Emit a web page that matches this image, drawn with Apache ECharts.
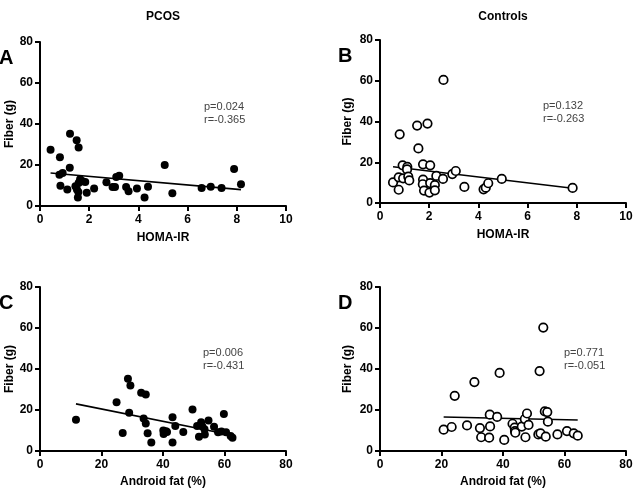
<!DOCTYPE html>
<html>
<head>
<meta charset="utf-8">
<script src="https://cdn.jsdelivr.net/npm/echarts@6/dist/echarts.min.js"></script>
<style>html,body{margin:0;padding:0;background:#fff}#c{width:636px;height:492px}</style>
</head>
<body>
<div id="c"></div>
<script>
// ---- Data ----
const pcosHoma = [[0.43,27.5],[0.81,23.8],[1.22,35.2],[1.49,32.1],[1.57,28.5],[0.79,15.3],[0.92,16.1],[1.21,18.6],[0.83,9.9],[1.11,8.1],[1.44,9.6],[1.50,8.0],[1.57,11.2],[1.63,13.0],[1.54,4.1],[1.56,6.8],[1.73,12.1],[1.84,11.7],[1.90,6.5],[2.2,8.5],[2.7,11.6],[2.95,9.3],[3.05,9.3],[3.1,14.2],[3.22,14.7],[3.5,9.3],[3.6,7.2],[3.94,8.5],[4.25,4.1],[4.39,9.4],[5.07,20.0],[5.38,6.2],[6.57,8.8],[6.94,9.4],[7.38,8.8],[7.89,18.1],[8.17,10.6]];
const pcosHomaFit = [[0.43,16.1],[8.17,8.0]];

const ctrlHoma = [[0.53,10.1],[0.76,12.6],[0.76,6.5],[0.80,33.7],[0.92,18.5],[0.94,12.1],[1.11,17.7],[1.10,16.5],[1.15,12.9],[1.19,11.1],[1.51,38.0],[1.56,26.8],[1.75,19.0],[1.75,11.5],[1.74,9.2],[1.79,6.1],[1.93,39.0],[2.04,18.5],[2.04,9.8],[2.01,5.1],[2.23,8.8],[2.23,6.2],[2.29,13.3],[2.58,60.4],[2.56,11.8],[2.94,14.2],[3.08,15.7],[3.43,7.9],[4.21,6.7],[4.30,7.5],[4.40,9.7],[4.95,11.8],[7.83,7.4]];
const ctrlHomaFit = [[0.53,17.8],[7.83,7.2]];

const pcosFat = [[11.7,15.2],[24.9,23.8],[26.9,8.8],[28.6,35.3],[29.4,32.0],[29.0,18.6],[32.9,28.4],[34.4,27.6],[33.7,15.8],[34.4,13.4],[35.0,8.7],[36.2,4.2],[40.1,10.0],[40.2,8.3],[41.0,9.6],[41.3,9.3],[43.1,16.5],[43.1,4.2],[44.0,12.2],[46.6,9.3],[49.6,20.2],[51.1,12.2],[51.7,6.9],[52.4,14.0],[52.8,11.9],[53.6,8.0],[53.5,10.6],[54.8,14.9],[56.6,11.8],[57.9,9.1],[59.0,9.5],[59.8,18.1],[60.5,9.1],[62.0,7.3],[62.6,6.5]];
const pcosFatFit = [[11.7,23.0],[62.6,7.7]];

const ctrlFat = [[20.7,10.4],[23.3,11.7],[24.3,26.9],[28.3,12.5],[30.7,33.6],[32.5,11.2],[32.9,6.7],[35.5,6.5],[35.8,12.0],[35.7,17.7],[38.1,16.6],[38.9,38.1],[40.4,5.4],[43.1,13.3],[43.8,11.4],[43.9,9.7],[44.0,8.9],[46.1,11.9],[47.1,15.6],[47.8,18.3],[47.3,6.7],[48.3,12.7],[51.5,8.1],[51.9,39.0],[52.2,8.6],[53.1,60.2],[53.6,19.3],[53.9,7.0],[54.4,19.0],[54.6,14.3],[57.7,8.1],[60.8,9.7],[63.0,8.6],[64.3,7.5]];
const ctrlFatFit = [[20.7,16.6],[64.3,15.1]];

const groupTitles = ['PCOS','Controls'];
const panelLetters = ['A','B','C','D'];
const statTexts = [['p=0.024','r=-0.365'],['p=0.132','r=-0.263'],['p=0.006','r=-0.431'],['p=0.771','r=-0.051']];
const xNames = ['HOMA-IR','HOMA-IR','Android fat (%)','Android fat (%)'];
const yName = 'Fiber (g)';
const xRanges = [[0,10,2],[0,10,2],[0,80,20],[0,80,20]];
const yRange = [0,80,20];

// ---- Chart ----
const chart = echarts.init(document.getElementById('c'), null, {renderer:'canvas'});
const FONT = 'Arial, "Liberation Sans", Helvetica, sans-serif';
const grids = [
  {left:40, top:42, width:246, height:164},
  {left:380, top:40, width:246, height:163},
  {left:40, top:287, width:246, height:164},
  {left:380, top:287, width:246, height:164}
];
const axisCommon = {
  axisLine:{show:true, onZero:false, lineStyle:{color:'#000', width:2}},
  axisTick:{show:true, inside:false, length:5, lineStyle:{color:'#000', width:2}},
  splitLine:{show:false},
  axisLabel:{color:'#000', fontWeight:'bold', fontSize:12, fontFamily:FONT},
  nameTextStyle:{color:'#000', fontWeight:'bold', fontSize:12, fontFamily:FONT}
};
const xAxes = xNames.map((n,i)=>Object.assign({}, axisCommon, {
  type:'value', gridIndex:i, min:xRanges[i][0], max:xRanges[i][1], interval:xRanges[i][2],
  name:n, nameLocation:'middle', nameGap:i<2 ? 26 : 25,
  axisLabel:Object.assign({}, axisCommon.axisLabel, {margin:8})
}));
const yAxes = xNames.map((n,i)=>Object.assign({}, axisCommon, {
  type:'value', gridIndex:i, min:yRange[0], max:yRange[1], interval:yRange[2],
  name:yName, nameLocation:'middle', nameGap:i%2? 26:24, nameRotate:90,
  axisLabel:Object.assign({}, axisCommon.axisLabel, {margin:7})
}));
const pts = [pcosHoma, ctrlHoma, pcosFat, ctrlFat];
const fits = [pcosHomaFit, ctrlHomaFit, pcosFatFit, ctrlFatFit];
const series = [];
pts.forEach((d,i)=>{
  const open = i%2===1;
  series.push({
    type:'line', xAxisIndex:i, yAxisIndex:i, data:fits[i], symbol:'none',
    lineStyle:{color:'#000', width:1.6}, z:2, silent:true, animation:false
  });
  series.push({
    type:'scatter', xAxisIndex:i, yAxisIndex:i, data:d,
    symbol:'circle', symbolSize: open? 8.5 : 8,
    itemStyle: open ? {color:'#fff', borderColor:'#000', borderWidth:1.7, opacity:1} : {color:'#000', opacity:1},
    z:3, animation:false
  });
});
const graphics = [];
const titlePos = [[163,17],[503,17]];
groupTitles.forEach((t,i)=>graphics.push({type:'text', x:titlePos[i][0], y:titlePos[i][1],
  style:{text:t, font:'bold 12px '+FONT, fill:'#000', textAlign:'center', textVerticalAlign:'middle'}}));
const letterPos = [[-1,58],[338,56],[-1,303],[338,303]];
panelLetters.forEach((t,i)=>graphics.push({type:'text', x:letterPos[i][0], y:letterPos[i][1],
  style:{text:t, font:'bold 20px '+FONT, fill:'#000', textAlign:'left', textVerticalAlign:'middle'}}));
const statPos = [[204,100],[543,99],[203,346],[564,346]];
statTexts.forEach((t,i)=>graphics.push({type:'text', x:statPos[i][0], y:statPos[i][1],
  style:{text:t.join('\n'), font:'11px '+FONT, lineHeight:13, fill:'#444', textAlign:'left', textVerticalAlign:'top'}}));

chart.setOption({
  backgroundColor:'#fff',
  animation:false,
  grid:grids,
  xAxis:xAxes,
  yAxis:yAxes,
  series:series,
  graphic:graphics
});
</script>
</body>
</html>
